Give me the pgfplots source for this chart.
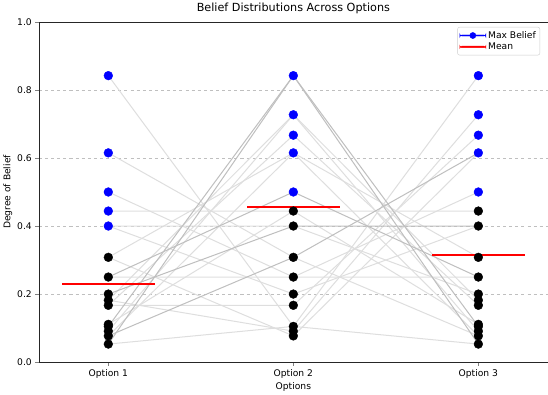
\documentclass[border=0pt]{standalone}
\usepackage{fontspec}
\setmainfont{DejaVu Sans}
\usepackage{pgfplots}
\usepackage{pgfplotstable}
\pgfplotsset{compat=1.18}
\pgfplotstableread{
x y
0 0.308
0 0.25
0 0.2
0 0.182
0 0.167
0 0.111
0 0.105
0 0.091
0 0.077
0 0.053
1 0.444
1 0.4
1 0.308
1 0.25
1 0.2
1 0.167
1 0.105
1 0.091
1 0.077
2 0.444
2 0.4
2 0.308
2 0.25
2 0.2
2 0.182
2 0.167
2 0.111
2 0.105
2 0.091
2 0.077
2 0.053
}\blackpts
\pgfplotstableread{
x y
0 0.842
0 0.615
0 0.5
0 0.444
0 0.4
1 0.842
1 0.727
1 0.667
1 0.615
1 0.5
2 0.842
2 0.727
2 0.667
2 0.615
2 0.5
}\bluepts
\begin{document}
\begin{tikzpicture}
\begin{axis}[
  scale only axis, width=498bp, height=333bp,
  xmin=-0.375, xmax=2.375, ymin=0, ymax=1,
  xtick={0,1,2}, xticklabels={Option 1,Option 2,Option 3},
  ytick={0,0.2,0.4,0.6,0.8,1},
  yticklabel style={/pgf/number format/.cd,fixed,fixed zerofill,precision=1},
  /pgf/number format/assume math mode=true,
  ymajorgrids, grid style={dashed, black!25, line width=0.5pt},
  tick label style={font=\fontsize{9}{10}\selectfont},
  label style={font=\fontsize{9}{10}\selectfont},
  title style={font=\fontsize{11}{13}\selectfont, yshift=-2bp},
  title={Belief Distributions Across Options},
  xlabel={Options}, ylabel={Degree of Belief},
  xlabel style={yshift=3bp},
  ylabel style={yshift=-2bp},
  tick align=outside, tick pos=left,
  major tick length=3.5bp,
  axis line style={black!85},
  legend style={at={(0.985,0.985)}, anchor=north east, draw=black!20, rounded corners=2pt,
    font=\fontsize{9}{10}\selectfont, inner sep=2pt, row sep=-1pt},
  legend cell align=left,
  conn/.style={color=black!13, line width=1pt, forget plot},
  conn2/.style={color=black!25, line width=1pt, forget plot},
]
\addlegendimage{legend image code/.code={\fill[blue] (0cm,-0.5pt) rectangle (0.9cm,0.5pt); \fill[blue] (0.45cm,0cm) circle (3bp);}}
\addlegendentry{Max Belief}
\addlegendimage{legend image code/.code={\fill[red] (0cm,-0.75pt) rectangle (0.9cm,0.75pt);}}
\addlegendentry{Mean}
% each line: beliefs over Option 1, Option 2, Option 3 (conn2 = two identical rows)
\addplot[conn] coordinates {(0,0.842)(1,0.105)(2,0.053)};
\addplot[conn] coordinates {(0,0.053)(1,0.105)(2,0.842)};
\addplot[conn] coordinates {(0,0.182)(1,0.727)(2,0.091)};
\addplot[conn] coordinates {(0,0.091)(1,0.727)(2,0.182)};
\addplot[conn] coordinates {(0,0.182)(1,0.091)(2,0.727)};
\addplot[conn] coordinates {(0,0.167)(1,0.667)(2,0.167)};
\addplot[conn] coordinates {(0,0.167)(1,0.167)(2,0.667)};
\addplot[conn] coordinates {(0,0.615)(1,0.308)(2,0.077)};
\addplot[conn] coordinates {(0,0.308)(1,0.615)(2,0.077)};
\addplot[conn] coordinates {(0,0.077)(1,0.615)(2,0.308)};
\addplot[conn] coordinates {(0,0.308)(1,0.077)(2,0.615)};
\addplot[conn] coordinates {(0,0.5)(1,0.25)(2,0.25)};
\addplot[conn] coordinates {(0,0.25)(1,0.25)(2,0.5)};
\addplot[conn] coordinates {(0,0.444)(1,0.444)(2,0.111)};
\addplot[conn] coordinates {(0,0.111)(1,0.444)(2,0.444)};
\addplot[conn] coordinates {(0,0.4)(1,0.4)(2,0.2)};
\addplot[conn] coordinates {(0,0.4)(1,0.2)(2,0.4)};
\addplot[conn2] coordinates {(0,0.053)(1,0.842)(2,0.105)};
\addplot[conn2] coordinates {(0,0.105)(1,0.842)(2,0.053)};
\addplot[conn2] coordinates {(0,0.077)(1,0.308)(2,0.615)};
\addplot[conn2] coordinates {(0,0.25)(1,0.5)(2,0.25)};
\addplot[conn2] coordinates {(0,0.2)(1,0.4)(2,0.4)};
\addplot[only marks, mark=*, mark size=4.3bp, color=black, forget plot] table[x=x,y=y] {\blackpts};
\addplot[only marks, mark=*, mark size=4.3bp, color=blue, forget plot] table[x=x,y=y] {\bluepts};
\addplot[red, line width=1.8bp, forget plot] coordinates {(-0.25,0.229)(0.25,0.229)};
\addplot[red, line width=1.8bp, forget plot] coordinates {(0.75,0.457)(1.25,0.457)};
\addplot[red, line width=1.8bp, forget plot] coordinates {(1.75,0.316)(2.25,0.316)};
\end{axis}
\end{tikzpicture}
\end{document}
